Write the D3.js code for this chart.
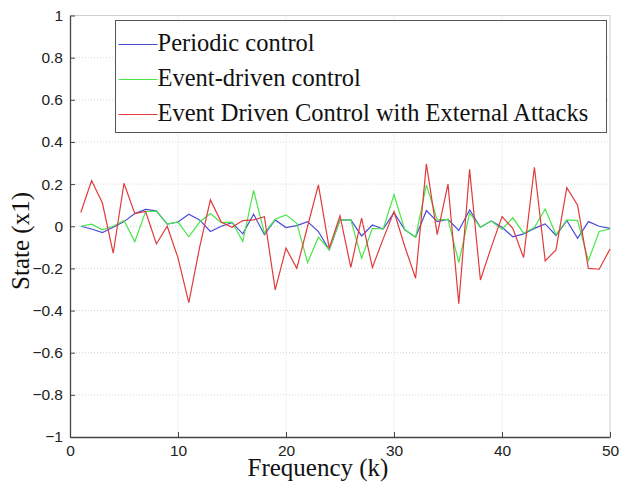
<!DOCTYPE html>
<html>
<head>
<meta charset="utf-8">
<script src="https://cdn.jsdelivr.net/npm/d3@7"></script>
<style>
  body { margin: 0; background: #fff; }
  .tick text { font-family: "Liberation Sans", Arial, sans-serif; font-size: 15.5px; fill: #222; }
  .grid line { stroke: #d6d6d6; stroke-dasharray: 1,2; }
</style>
</head>
<body>
<svg width="622" height="484"></svg>
<script>
const seriesNames = ["Periodic control", "Event-driven control", "Event Driven Control with External Attacks"];
const seriesColors = ["#4b4bd6", "#49e649", "#e23a3a"];

const k = d3.range(1, 51);

const periodic = [0.0, -0.013, -0.03, -0.005, 0.022, 0.06, 0.08, 0.073, 0.01, 0.02,
  0.057, 0.03, -0.025, 0.0, 0.017, -0.036, 0.057, -0.04, 0.03, -0.006,
  0.003, 0.022, -0.025, -0.112, 0.03, 0.03, -0.046, 0.006, -0.013, 0.065,
  -0.017, -0.052, 0.074, 0.022, 0.033, -0.02, 0.077, -0.005, 0.025, -0.005,
  -0.05, -0.036, -0.01, 0.011, -0.044, 0.027, -0.057, 0.022, 0.0, -0.01];

const eventDriven = [0.0, 0.01, -0.017, 0.0, 0.027, -0.073, 0.07, 0.072, 0.01, 0.02,
  -0.05, 0.02, 0.06, 0.017, 0.02, -0.073, 0.17, -0.033, 0.033, 0.054,
  0.014, -0.172, -0.052, -0.112, 0.03, 0.03, -0.152, -0.01, -0.013, 0.149,
  -0.017, -0.052, 0.196, 0.03, 0.033, -0.172, 0.062, -0.005, 0.025, -0.014,
  0.04, -0.033, -0.006, 0.082, -0.04, 0.03, 0.027, -0.163, -0.025, -0.013];

const attacked = [0.065, 0.217, 0.11, -0.128, 0.204, 0.06, 0.07, -0.084, 0.0, -0.15,
  -0.362, -0.1, 0.125, 0.02, -0.005, 0.027, 0.03, 0.045, -0.302, -0.104,
  -0.2, 0.0, 0.196, -0.104, 0.05, -0.195, 0.038, -0.195, -0.06, 0.07,
  -0.096, -0.247, 0.296, -0.04, 0.2, -0.368, 0.27, -0.255, -0.1, 0.046,
  -0.01, -0.149, 0.28, -0.164, -0.112, 0.183, 0.1, -0.2, -0.204, -0.108];

const xTicks = [0, 10, 20, 30, 40, 50];
const yTicks = [-1, -0.8, -0.6, -0.4, -0.2, 0, 0.2, 0.4, 0.6, 0.8, 1];

const svg = d3.select("svg");
const margin = { top: 15.5, left: 70, right: 12, bottom: 47 };
const width = +svg.attr("width");
const height = +svg.attr("height");
const innerWidth = width - margin.left - margin.right;
const innerHeight = height - margin.top - margin.bottom;

const g = svg.append("g").attr("transform", `translate(${margin.left},${margin.top})`);

const xScale = d3.scaleLinear().domain([0, 50]).range([0, innerWidth]);
const yScale = d3.scaleLinear().domain([-1, 1]).range([innerHeight, 0]);

// grid
g.append("g").attr("class", "grid")
  .selectAll("line").data(xTicks.slice(1, -1)).join("line")
  .attr("x1", d => xScale(d)).attr("x2", d => xScale(d))
  .attr("y1", 0).attr("y2", innerHeight);
g.append("g").attr("class", "grid")
  .selectAll("line").data(yTicks.slice(1, -1)).join("line")
  .attr("x1", 0).attr("x2", innerWidth)
  .attr("y1", d => yScale(d)).attr("y2", d => yScale(d));

// box top/right
g.append("line").attr("x1", 0).attr("x2", innerWidth).attr("y1", 0).attr("y2", 0)
  .attr("stroke", "#cfcfcf");
g.append("line").attr("x1", innerWidth).attr("x2", innerWidth).attr("y1", 0).attr("y2", innerHeight)
  .attr("stroke", "#cfcfcf");

const xAxis = d3.axisBottom(xScale).tickValues(xTicks).tickFormat(d3.format("d"))
  .tickSizeInner(-5).tickSizeOuter(0).tickPadding(8);
const yAxis = d3.axisLeft(yScale).tickValues(yTicks).tickFormat(d => d === 0 ? "0" : d3.format("")(d))
  .tickSizeInner(-5).tickSizeOuter(0).tickPadding(7);

const xAxisG = g.append("g").attr("transform", `translate(0,${innerHeight})`).call(xAxis);
const yAxisG = g.append("g").call(yAxis);
[xAxisG, yAxisG].forEach(a => {
  a.select(".domain").attr("stroke", "#444").attr("stroke-width", 1.3);
  a.selectAll(".tick line").attr("stroke", "#444");
});

// lines
const line = d3.line().x((d, i) => xScale(k[i])).y(d => yScale(d));
const allSeries = [periodic, eventDriven, attacked];
g.selectAll("path.series").data(allSeries).join("path")
  .attr("class", "series")
  .attr("fill", "none")
  .attr("stroke", (d, i) => seriesColors[i])
  .attr("stroke-width", 1.2)
  .attr("d", line);

// legend
const legend = svg.append("g").attr("transform", "translate(115.5,20.5)");
legend.append("rect").attr("width", 491).attr("height", 112)
  .attr("fill", "#fff").attr("stroke", "#555").attr("stroke-width", 1);
const items = legend.selectAll("g.item").data(seriesNames).join("g")
  .attr("class", "item")
  .attr("transform", (d, i) => `translate(0,${24 + i * 35})`);
items.append("line").attr("x1", 3).attr("x2", 42)
  .attr("stroke", (d, i) => seriesColors[i]).attr("stroke-width", 1);
items.append("text").attr("x", 42).attr("y", 6)
  .style("font-family", "'Liberation Serif', 'Times New Roman', serif")
  .style("font-size", "24.5px").attr("fill", "#111")
  .text(d => d);

// axis labels
svg.append("text")
  .attr("x", 318).attr("y", 476)
  .attr("text-anchor", "middle")
  .style("font-family", "'Liberation Serif', 'Times New Roman', serif")
  .style("font-size", "25px").attr("fill", "#111")
  .text("Frequency (k)");
svg.append("text")
  .attr("transform", `translate(29,241) rotate(-90)`)
  .attr("text-anchor", "middle")
  .style("font-family", "'Liberation Serif', 'Times New Roman', serif")
  .style("font-size", "25px").attr("fill", "#111")
  .text("State (x1)");
</script>
</body>
</html>
